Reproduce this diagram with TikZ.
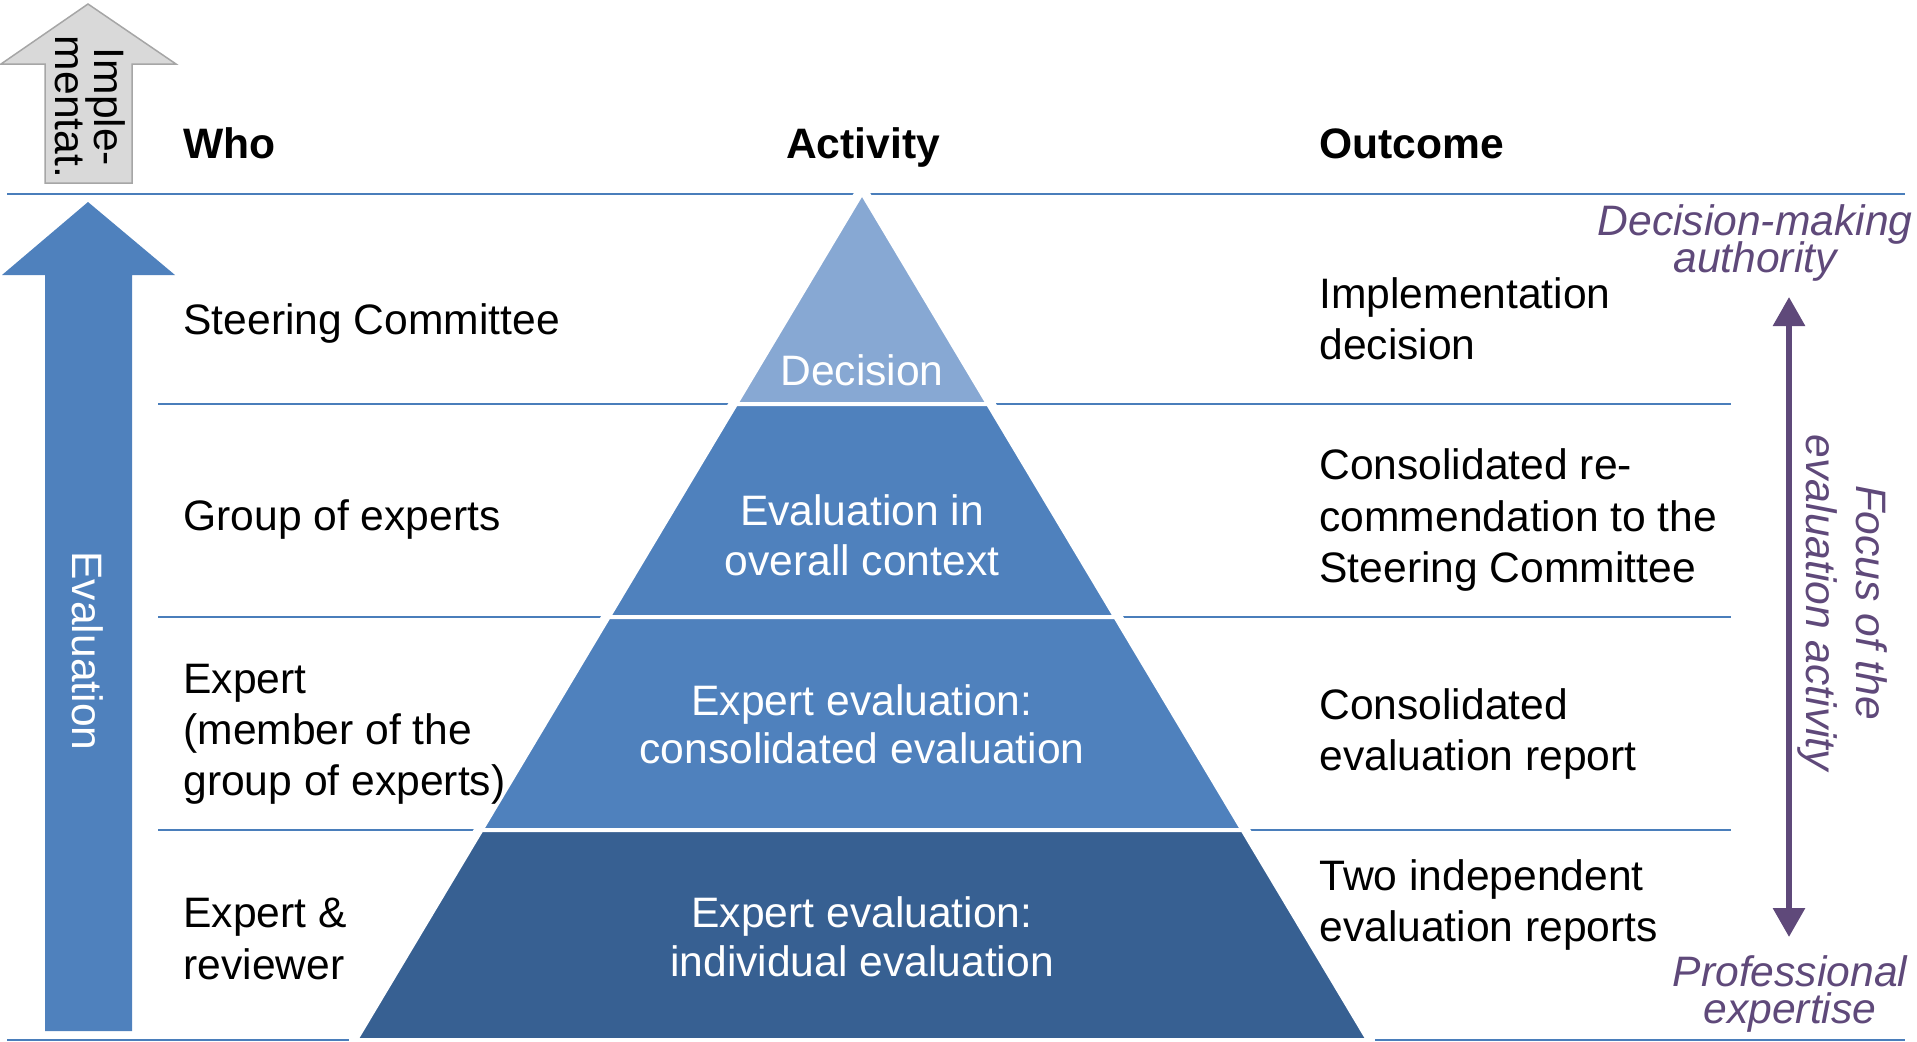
\documentclass[tikz,border=0pt]{standalone}
\usepackage{fontspec}
\setmainfont{Liberation Sans}
\usetikzlibrary{arrows.meta}
\definecolor{lineblue}{HTML}{4A7EBB}
\definecolor{accblue}{HTML}{4F81BD}
\definecolor{lightblue}{HTML}{87A8D3}
\definecolor{darkblue}{HTML}{376092}
\definecolor{purp}{HTML}{5F497A}
\definecolor{greyfill}{HTML}{D9D9D9}
\definecolor{greyline}{HTML}{A6A6A6}
\lineskiplimit=-100pt
\begin{document}
\begin{tikzpicture}[x=0.5pt,y=-0.5pt,
  txt/.style={inner sep=0pt, font=\fontsize{21.3pt}{25.6pt}\selectfont},
  hdr/.style={inner sep=0pt, font=\fontsize{21.3pt}{25.6pt}\selectfont\bfseries},
  wtxt/.style={inner sep=0pt, text=white, align=center},
  ptxt/.style={inner sep=0pt, text=purp, align=center},
  rowline/.style={draw=lineblue, line width=1.25pt},
  layer/.style={draw=white, line width=2pt, line join=miter}
]
\useasboundingbox (0,0) rectangle (1917,1041);

% horizontal rules
\draw[rowline] (7,194) -- (1905,194);
\draw[rowline] (158,404) -- (1731,404);
\draw[rowline] (158,617) -- (1731,617);
\draw[rowline] (158,830) -- (1731,830);
\draw[rowline] (7,1040) -- (1905,1040);

% pyramid
\draw[white, line width=7pt, line join=round] (862,193) -- (356,1040) -- (1368,1040) -- cycle;
\filldraw[layer, fill=lightblue] (862,193) -- (736,404) -- (988,404) -- cycle;
\filldraw[layer, fill=accblue] (736,404) -- (988,404) -- (1115.3,617) -- (608.7,617) -- cycle;
\filldraw[layer, fill=accblue] (608.7,617) -- (1115.3,617) -- (1242.5,830) -- (481.5,830) -- cycle;
\filldraw[layer, fill=darkblue] (481.5,830) -- (1242.5,830) -- (1368,1040) -- (356,1040) -- cycle;

% implementation arrow
\draw[fill=greyfill, draw=greyline, line width=0.75pt, line join=miter]
  (88,4) -- (176,64) -- (132,64) -- (132,183) -- (45,183) -- (45,64) -- (1,64) -- cycle;
\node[inner sep=0pt, align=center, rotate=-90, font=\fontsize{21.3pt}{19.5pt}\selectfont] (impl) at (90,107) {Imple-\\mentat.};

% evaluation arrow
\fill[accblue] (88,202) -- (175,275) -- (132,275) -- (132,1031) -- (45,1031) -- (45,275) -- (2,275) -- cycle;
\node[inner sep=0pt, text=white, rotate=-90, font=\fontsize{21.3pt}{25.6pt}\selectfont] (evalt) at (88,651) {Evaluation};

% headers
\node[hdr, anchor=base west] (who) at (183,158) {Who};
\node[hdr, anchor=base] (act) at (863,158) {Activity};
\node[hdr, anchor=base west] (out) at (1319,158) {Outcome};

% who column
\node[txt, anchor=base west] (w1) at (183,334) {Steering Committee};
\node[txt, anchor=base west] (w2) at (183,530) {Group of experts};
\node[txt, anchor=west, align=left] (w3) at (183,734) {Expert\\(member of the\\group of experts)};
\node[txt, anchor=west, align=left] (w4) at (183,939) {Expert \&\\reviewer};

% activity labels
\node[wtxt, anchor=base, font=\fontsize{21.3pt}{25.6pt}\selectfont] (a1) at (862,385) {Decision};
\node[wtxt, font=\fontsize{21.3pt}{25pt}\selectfont] (a2) at (862,535) {Evaluation in\\overall context};
\node[wtxt, font=\fontsize{21.3pt}{23.85pt}\selectfont] (a3) at (862,724) {Expert evaluation:\\consolidated evaluation};
\node[wtxt, font=\fontsize{21.3pt}{24.5pt}\selectfont] (a4) at (862,937) {Expert evaluation:\\individual evaluation};

% outcome column
\node[txt, anchor=west, align=left] (o1) at (1319,319) {Implementation\\decision};
\node[txt, anchor=west, align=left] (o2) at (1319,520) {Consolidated re-\\commendation to the\\Steering Committee};
\node[txt, anchor=west, align=left] (o3) at (1319,734) {Consolidated\\evaluation report};
\node[txt, anchor=west, align=left] (o4) at (1319,905) {Two independent\\evaluation reports};

% focus arrow and labels
\node[ptxt, font=\fontsize{21.3pt}{18.5pt}\selectfont\itshape] (dma) at (1755,242.5) {Decision-making\\authority};
\node[ptxt, font=\fontsize{21.3pt}{18.5pt}\selectfont\itshape] (pex) at (1790,993.5) {Professional\\expertise};
\node[ptxt, rotate=-90, font=\fontsize{21.3pt}{25pt}\selectfont\itshape] (foc) at (1842,603) {Focus of the\\evaluation activity};
\coordinate (ftop) at (1789,297);
\coordinate (fbot) at (1789,937);
\draw[purp, line width=3pt, {Triangle[width=15.5pt,length=14.5pt]}-{Triangle[width=15.5pt,length=14.5pt]}] (ftop) -- (fbot);
\end{tikzpicture}
\end{document}
